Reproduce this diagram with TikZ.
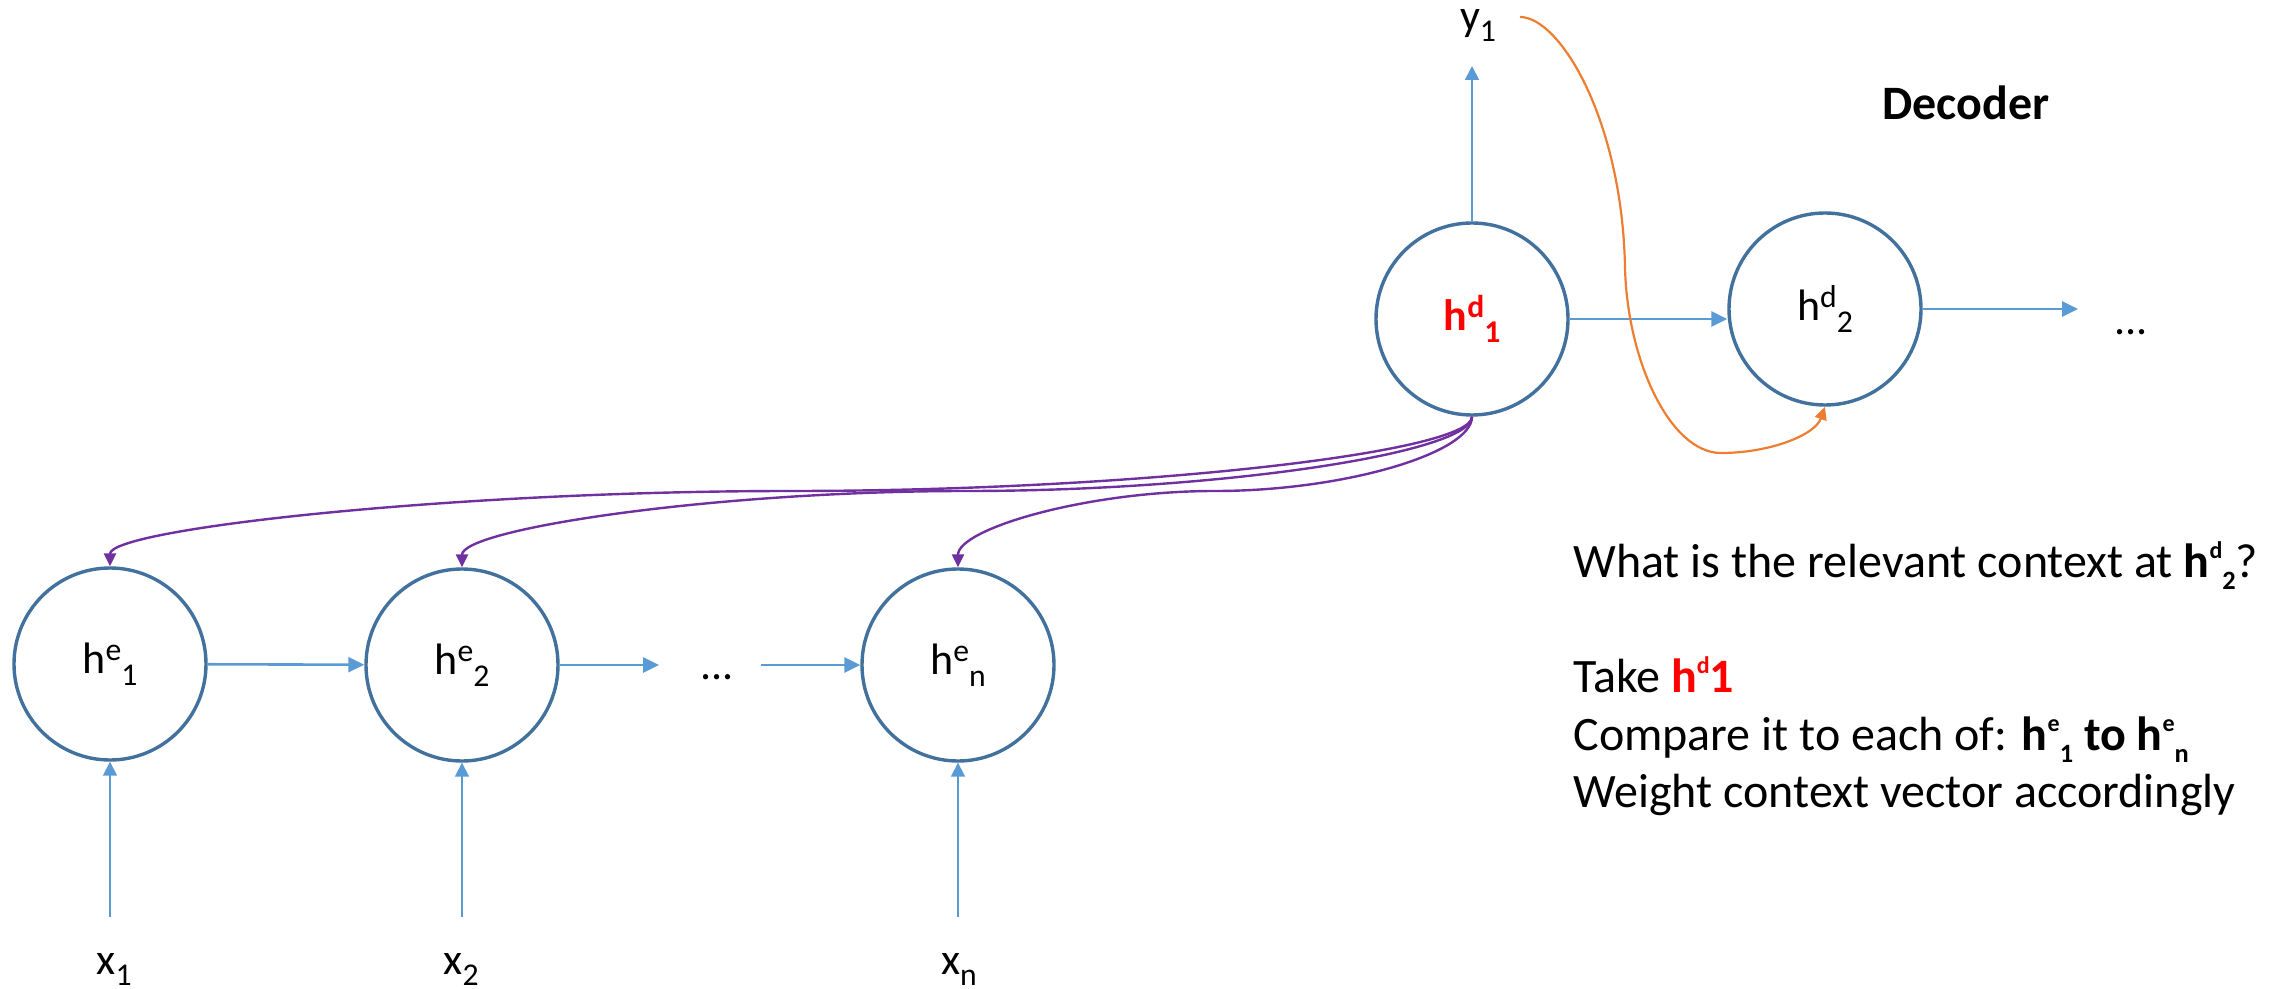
\documentclass[tikz,border=0pt]{standalone}
\usepackage{fontspec}
\usepackage{graphicx}
\setmainfont{Carlito}
\usetikzlibrary{arrows.meta}
\definecolor{ablue}{HTML}{5B9BD5}
\definecolor{cblue}{HTML}{41719C}
\definecolor{purp}{HTML}{7030A0}
\definecolor{orng}{HTML}{ED7D31}
\newcommand\hsup[3][0.72]{h\raisebox{0.3em}{\scalebox{#1}{#2}}\raisebox{-0.27em}{\scalebox{#1}{#3}}}
\newcommand\xsub[2]{#1\raisebox{-0.25em}{\scalebox{0.72}{#2}}}
\newcommand\tsup[2]{h\raisebox{0.38em}{\scalebox{0.5}{#1}}\raisebox{-0.27em}{\scalebox{0.55}{#2}}}
\begin{document}
\begin{tikzpicture}[x=0.5pt,y=-0.5pt,font=\fontsize{22}{26}\selectfont,
  circ/.style={circle,draw=cblue,line width=1.7pt,minimum size=96pt,inner sep=0pt},
  harr/.style={draw=ablue,line width=1.3pt,-{Triangle[length=8pt,width=7.5pt]}},
  varr/.style={draw=ablue,line width=0.9pt,-{Triangle[length=7pt,width=7pt]}},
  parr/.style={draw=purp,line width=1.2pt,-{Triangle[length=6.5pt,width=6pt]}},
  oarr/.style={draw=orng,line width=1.1pt,-{Triangle[length=6.5pt,width=6pt]}},
  lbl/.style={inner sep=0pt,anchor=base},
  rtext/.style={inner sep=0pt,anchor=base west,font=\fontsize{24}{28}\selectfont}]
\useasboundingbox (0,0) rectangle (2287,989);
% encoder
\node[circ] (he1) at (110,664) {\hsup{e}{1}};
\node[circ] (he2) at (462,665) {\hsup{e}{2}};
\node[circ] (hen) at (958,665) {\hsup{e}{n}};
\node[lbl] (dots1) at (717,679) {...};
\coordinate (d1a) at (659,665);
\coordinate (d1b) at (761,665);
\draw[harr] (he1) -- (he2);
\draw[harr] (he2) -- (d1a);
\draw[harr] (d1b) -- (hen);
% inputs
\node[lbl] (x1) at (114,974) {\xsub{x}{1}};
\node[lbl] (x2) at (461,974) {\xsub{x}{2}};
\node[lbl] (xn) at (959,974) {\xsub{x}{n}};
\coordinate (x1s) at (110,917);
\coordinate (x2s) at (462,917);
\coordinate (xns) at (958,917);
\draw[varr] (x1s) -- (he1.south);
\draw[varr] (x2s) -- (he2.south);
\draw[varr] (xns) -- (hen.south);
% decoder
\node[circ] (hd1) at (1472,319) {\color{red}\bfseries\hsup{d}{1}};
\node[circ] (hd2) at (1825,309) {\hsup{d}{2}};
\node[lbl] (dots2) at (2131,335) {...};
\coordinate (d2a) at (2078,309);
\draw[harr] (hd1.east) -- (hd1.east -| hd2.west);
\draw[harr] (hd2.east) -- (d2a);
\node[lbl] (y1) at (1478,31) {\xsub{y}{1}};
\coordinate (y1a) at (1472,66);
\draw[varr] (hd1.north) -- (y1a);
\node[lbl,font=\fontsize{24}{28}\selectfont\bfseries] (dec) at (1966,120) {Decoder};
% attention connectors
\draw[parr] (hd1.south) .. controls (1472,453) and (1132,491) .. (791,491)
  .. controls (451,491) and (110,529) .. (he1.north);
\draw[parr] (hd1.south) .. controls (1472,453) and (1219,491) .. (967,491)
  .. controls (714,491) and (462,529) .. (he2.north);
\draw[parr] (hd1.south) .. controls (1472,453) and (1344,491) .. (1215,491)
  .. controls (1086,491) and (958,529) .. (hen.north);
% feedback y1 -> hd2
\coordinate (ys) at (1520,17);
\draw[oarr] (ys) .. controls (1560,17) and (1622,120) .. (1625,267)
  .. controls (1627,360) and (1670,453) .. (1721,453)
  .. controls (1770,453) and (1815,435) .. (hd2.south);
% text
\node[rtext] (t1) at (1573,577) {What is the relevant context at \textbf{\tsup{d}{2}}?};
\node[rtext] (t2) at (1573,692) {Take \textcolor{red}{\textbf{h\raisebox{0.38em}{\scalebox{0.5}{d}}1}}};
\node[rtext] (t3) at (1573,750) {Compare it to each of: \textbf{\tsup{e}{1} to \tsup{e}{n}}};
\node[rtext] (t4) at (1573,807) {Weight context vector accordingly};
\end{tikzpicture}
\end{document}
